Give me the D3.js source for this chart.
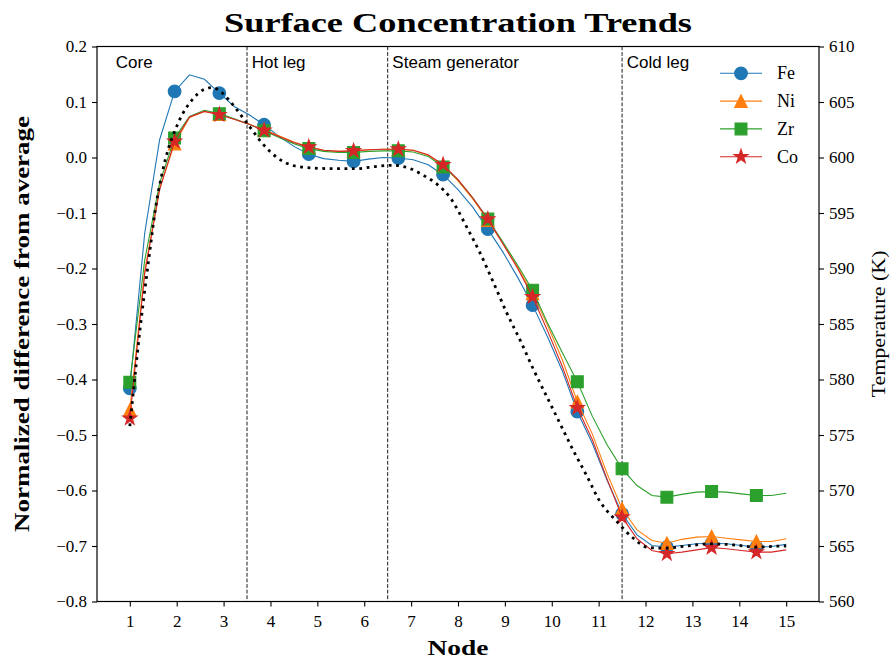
<!DOCTYPE html>
<html>
<head>
<meta charset="utf-8">
<script src="https://cdn.jsdelivr.net/npm/d3@7"></script>
<style>
  body { margin: 0; background: #fff; }
  svg { display: block; }
</style>
</head>
<body>
<svg id="chart" width="891" height="660"></svg>
<script>
// ---------------- data ----------------
const nodePositions = [1.000, 1.318, 1.636, 1.955, 2.273, 2.591, 2.909, 3.227, 3.545, 3.864,
  4.182, 4.500, 4.818, 5.136, 5.455, 5.773, 6.091, 6.409, 6.727, 7.045,
  7.364, 7.682, 8.000, 8.318, 8.636, 8.955, 9.273, 9.591, 9.909, 10.227,
  10.545, 10.864, 11.182, 11.500, 11.818, 12.136, 12.455, 12.773, 13.091, 13.409,
  13.727, 14.045, 14.364, 14.682, 15.000];

const feValues = [-0.416, -0.136, 0.032, 0.119, 0.149, 0.141, 0.116, 0.092, 0.077, 0.059,
  0.038, 0.020, 0.006, -0.002, -0.005, -0.007, -0.003, 0.000, -0.001, -0.004,
  -0.013, -0.031, -0.058, -0.090, -0.129, -0.170, -0.216, -0.266, -0.323, -0.385,
  -0.458, -0.515, -0.582, -0.642, -0.680, -0.699, -0.702, -0.699, -0.696, -0.695,
  -0.696, -0.699, -0.702, -0.701, -0.697];

const niValues = [-0.455, -0.205, -0.055, 0.025, 0.072, 0.083, 0.078, 0.069, 0.060, 0.050,
  0.039, 0.028, 0.019, 0.013, 0.011, 0.012, 0.014, 0.015, 0.015, 0.013,
  0.004, -0.014, -0.042, -0.075, -0.113, -0.155, -0.198, -0.245, -0.302, -0.365,
  -0.440, -0.498, -0.570, -0.633, -0.671, -0.690, -0.695, -0.688, -0.684, -0.683,
  -0.686, -0.689, -0.692, -0.692, -0.687];

const zrValues = [-0.405, -0.185, -0.046, 0.035, 0.074, 0.085, 0.079, 0.070, 0.060, 0.048,
  0.036, 0.025, 0.016, 0.011, 0.009, 0.009, 0.011, 0.012, 0.012, 0.010,
  0.002, -0.017, -0.040, -0.073, -0.111, -0.152, -0.194, -0.239, -0.298, -0.352,
  -0.404, -0.466, -0.518, -0.561, -0.591, -0.609, -0.612, -0.607, -0.603, -0.602,
  -0.603, -0.606, -0.609, -0.609, -0.605];

const coValues = [-0.470, -0.209, -0.058, 0.029, 0.073, 0.083, 0.077, 0.069, 0.060, 0.049,
  0.038, 0.027, 0.019, 0.013, 0.011, 0.012, 0.014, 0.015, 0.015, 0.013,
  0.005, -0.013, -0.040, -0.073, -0.111, -0.155, -0.200, -0.251, -0.312, -0.377,
  -0.451, -0.508, -0.580, -0.648, -0.687, -0.708, -0.714, -0.711, -0.707, -0.703,
  -0.705, -0.708, -0.711, -0.711, -0.707];

// temperature profile (right axis, K)
const tempNodes = [1.00, 1.11, 1.22, 1.33, 1.44, 1.54, 1.69, 1.83, 1.97, 2.11,
  2.33, 2.57, 2.75, 2.95, 3.11, 3.39, 3.57, 3.82, 4.14, 4.46,
  4.78, 5.27, 5.84, 6.27, 6.60, 6.98, 7.26, 7.55, 7.83, 8.19,
  8.47, 8.76, 9.04, 9.33, 9.61, 9.90, 10.18, 10.46, 10.75, 11.00,
  11.39, 11.74, 12.03, 12.38, 12.88, 13.38, 13.88, 14.37, 14.90, 15.00];
const tempK = [575.8, 580.3, 584.6, 588.4, 592.0, 595.2, 598.6, 600.9, 602.5, 603.8,
  605.2, 606.1, 606.3, 605.9, 605.2, 603.7, 602.7, 601.3, 600.0, 599.3,
  599.1, 599.0, 599.0, 599.2, 599.3, 599.0, 598.4, 597.6, 596.4, 593.7,
  591.4, 588.7, 586.0, 583.5, 580.9, 578.4, 576.0, 573.6, 571.3, 569.2,
  567.2, 565.7, 564.9, 564.8, 565.0, 565.2, 565.1, 564.9, 565.0, 565.0];

const seriesNames = ["Fe", "Ni", "Zr", "Co"];
const seriesColors = ["#1f77b4", "#ff7f0e", "#2ca02c", "#d62728"];
const seriesMarkers = ["circle", "triangle", "square", "star"];
const seriesValues = [feValues, niValues, zrValues, coValues];

const xTicks = [1, 2, 3, 4, 5, 6, 7, 8, 9, 10, 11, 12, 13, 14, 15];
const yLeftTicks = [0.2, 0.1, 0.0, -0.1, -0.2, -0.3, -0.4, -0.5, -0.6, -0.7, -0.8];
const yRightTicks = [560, 565, 570, 575, 580, 585, 590, 595, 600, 605, 610];

const regionBoundaries = [3.5, 6.5, 11.5];
const regionLabels = ["Core", "Hot leg", "Steam generator", "Cold leg"];
const regionLabelNodes = [0.7, 3.6, 6.6, 11.6];

const titleText = "Surface Concentration Trends";
const xLabelText = "Node";
const yLeftLabelText = "Normalized difference from average";
const yRightLabelText = "Temperature (K)";

// ---------------- layout ----------------
const plot = { left: 97, right: 819, top: 46.5, bottom: 601.5 };
const serif = "'Liberation Serif', 'Times New Roman', serif";
const sans = "'Liberation Sans', Arial, Helvetica, sans-serif";

const svg = d3.select("#chart");

const x = d3.scaleLinear().domain([0.3, 15.7]).range([plot.left, plot.right]);
const yL = d3.scaleLinear().domain([-0.8, 0.2]).range([plot.bottom, plot.top]);
const yR = d3.scaleLinear().domain([560, 610]).range([plot.bottom, plot.top]);

// marker shapes (matplotlib-like)
const markerTypes = {
  circle: { draw(ctx, r) { ctx.moveTo(r, 0); ctx.arc(0, 0, r, 0, 2 * Math.PI); ctx.closePath(); } },
  square: { draw(ctx, r) { ctx.rect(-r, -r, 2 * r, 2 * r); } },
  triangle: { draw(ctx, r) { ctx.moveTo(0, -r); ctx.lineTo(r, r); ctx.lineTo(-r, r); ctx.closePath(); } },
  star: { draw(ctx, r) {
    const inner = r * 0.381966;
    for (let k = 0; k < 10; k++) {
      const rad = k % 2 === 0 ? r : inner;
      const a = -Math.PI / 2 + k * Math.PI / 5;
      const px = rad * Math.cos(a), py = rad * Math.sin(a);
      if (k === 0) ctx.moveTo(px, py); else ctx.lineTo(px, py);
    }
    ctx.closePath();
  } }
};
const markerHalf = { circle: 6.3, square: 5.9, triangle: 6.2, star: 7.2 };
function markerPath(kind) {
  return d3.symbol().type(markerTypes[kind]).size(markerHalf[kind])();
}

// ---------------- axes ----------------
const fmtL = v => (v < 0 ? "\u2212" : "") + Math.abs(v).toFixed(1);

const xAxis = svg.append("g")
  .attr("transform", `translate(0,${plot.bottom})`)
  .call(d3.axisBottom(x).tickValues(xTicks).tickFormat(d3.format("d")).tickSize(5).tickPadding(5));
const yAxisL = svg.append("g")
  .attr("transform", `translate(${plot.left},0)`)
  .call(d3.axisLeft(yL).tickValues(yLeftTicks).tickFormat(fmtL).tickSize(5).tickPadding(5));
const yAxisR = svg.append("g")
  .attr("transform", `translate(${plot.right},0)`)
  .call(d3.axisRight(yR).tickValues(yRightTicks).tickFormat(d3.format("d")).tickSize(5).tickPadding(5));

[xAxis, yAxisL, yAxisR].forEach(g => {
  g.select(".domain").remove();
  g.selectAll(".tick line").attr("stroke", "#000").attr("stroke-width", 1.1);
  g.selectAll(".tick text").attr("font-family", serif).attr("font-size", 17).attr("fill", "#000");
});
xAxis.selectAll(".tick text").attr("dy", "0.9em");

// ---------------- region separators & labels ----------------
svg.append("g").selectAll("line").data(regionBoundaries).join("line")
  .attr("x1", d => x(d)).attr("x2", d => x(d))
  .attr("y1", plot.top).attr("y2", plot.bottom)
  .attr("stroke", "#000").attr("stroke-width", 0.9)
  .attr("stroke-dasharray", "3.8,1.8");

svg.append("g").selectAll("text").data(regionLabels).join("text")
  .attr("x", (d, i) => x(regionLabelNodes[i]))
  .attr("y", plot.top + 21.8)
  .attr("font-family", sans).attr("font-size", 17).attr("fill", "#000")
  .text(d => d);

// ---------------- series ----------------
const line = d3.line().x(d => x(d[0])).y(d => yL(d[1]));

seriesNames.forEach((name, s) => {
  const pts = nodePositions.map((n, i) => [n, seriesValues[s][i]]);
  const g = svg.append("g");
  g.append("path").datum(pts)
    .attr("d", line).attr("fill", "none")
    .attr("stroke", seriesColors[s]).attr("stroke-width", 1.1);
  g.selectAll("path.m").data(pts.filter((d, i) => i % 3 === 0)).join("path")
    .attr("class", "m")
    .attr("transform", d => `translate(${x(d[0])},${yL(d[1])})`)
    .attr("d", markerPath(seriesMarkers[s]))
    .attr("fill", seriesColors[s])
    .attr("stroke", seriesColors[s]).attr("stroke-width", 1.2).attr("stroke-linejoin", "miter");
});

// ---------------- legend ----------------
const legend = svg.append("g");
seriesNames.forEach((name, s) => {
  const ly = 73.3 + s * 27.8;
  legend.append("line").attr("x1", 720).attr("x2", 762).attr("y1", ly).attr("y2", ly)
    .attr("stroke", seriesColors[s]).attr("stroke-width", 1.1);
  legend.append("path").attr("transform", `translate(741,${ly})`)
    .attr("d", markerPath(seriesMarkers[s]))
    .attr("fill", seriesColors[s]).attr("stroke", seriesColors[s]).attr("stroke-width", 1.2);
  legend.append("text").attr("x", 777).attr("y", ly + 6)
    .attr("font-family", serif).attr("font-size", 18).attr("fill", "#000").text(name);
});

// ---------------- temperature (twin axis) ----------------
const tLine = d3.line().x((d, i) => x(tempNodes[i])).y(d => yR(d)).curve(d3.curveMonotoneX);
svg.append("path").datum(tempK)
  .attr("d", tLine).attr("fill", "none")
  .attr("stroke", "#000").attr("stroke-width", 2.8)
  .attr("stroke-dasharray", "2.8,4.6");

// ---------------- frame ----------------
svg.append("rect")
  .attr("x", plot.left).attr("y", plot.top)
  .attr("width", plot.right - plot.left).attr("height", plot.bottom - plot.top)
  .attr("fill", "none").attr("stroke", "#000").attr("stroke-width", 1.2);

// ---------------- titles ----------------
svg.append("text")
  .attr("x", (plot.left + plot.right) / 2).attr("y", 32)
  .attr("text-anchor", "middle")
  .attr("font-family", serif).attr("font-weight", "bold").attr("font-size", 27)
  .attr("textLength", 468).attr("lengthAdjust", "spacingAndGlyphs")
  .text(titleText);

svg.append("text")
  .attr("x", (plot.left + plot.right) / 2).attr("y", 655)
  .attr("text-anchor", "middle")
  .attr("font-family", serif).attr("font-weight", "bold").attr("font-size", 21)
  .attr("textLength", 61).attr("lengthAdjust", "spacingAndGlyphs")
  .text(xLabelText);

svg.append("text")
  .attr("transform", `translate(29,${(plot.top + plot.bottom) / 2}) rotate(-90)`)
  .attr("text-anchor", "middle")
  .attr("font-family", serif).attr("font-weight", "bold").attr("font-size", 22)
  .attr("textLength", 416).attr("lengthAdjust", "spacingAndGlyphs")
  .text(yLeftLabelText);

svg.append("text")
  .attr("transform", `translate(885,${(plot.top + plot.bottom) / 2}) rotate(-90)`)
  .attr("text-anchor", "middle")
  .attr("font-family", serif).attr("font-size", 18)
  .attr("textLength", 147).attr("lengthAdjust", "spacingAndGlyphs")
  .text(yRightLabelText);
</script>
</body>
</html>
